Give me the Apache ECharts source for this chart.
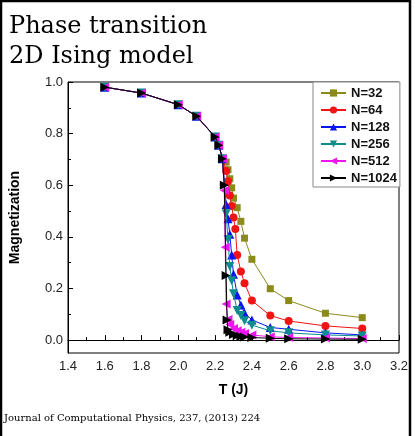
<!DOCTYPE html>
<html>
<head>
<meta charset="utf-8">
<script src="https://cdn.jsdelivr.net/npm/echarts@6/dist/echarts.min.js"></script>
<style>
html,body{margin:0;padding:0;background:#fff;}
#chart{width:415px;height:436px;}
</style>
</head>
<body>
<div id="chart"></div>
<script>
// Shared low-temperature points (all sizes overlap)
var tLow = [1.6, 1.8, 2.0, 2.1, 2.2, 2.22, 2.24];
var mLow = [0.98, 0.957, 0.912, 0.867, 0.787, 0.755, 0.703];

var t32 = [2.26, 2.27, 2.28, 2.29, 2.30, 2.32, 2.34, 2.36, 2.40, 2.50, 2.60, 2.80, 3.00];
var m32 = [0.69, 0.66, 0.625, 0.59, 0.55, 0.513, 0.46, 0.395, 0.313, 0.199, 0.153, 0.104, 0.087];

var t64 = [2.26, 2.27, 2.28, 2.29, 2.30, 2.31, 2.32, 2.34, 2.36, 2.40, 2.50, 2.60, 2.80, 3.00];
var m64 = [0.655, 0.615, 0.56, 0.52, 0.475, 0.43, 0.33, 0.266, 0.22, 0.153, 0.095, 0.074, 0.055, 0.045];

var t128 = [2.26, 2.27, 2.28, 2.29, 2.30, 2.32, 2.34, 2.36, 2.40, 2.50, 2.60, 2.80, 3.00];
var m128 = [0.525, 0.47, 0.41, 0.33, 0.255, 0.175, 0.136, 0.105, 0.078, 0.049, 0.042, 0.028, 0.02];

var t256 = [2.26, 2.27, 2.28, 2.29, 2.30, 2.32, 2.34, 2.36, 2.40, 2.50, 2.60, 2.80, 3.00];
var m256 = [0.49, 0.39, 0.285, 0.23, 0.18, 0.115, 0.095, 0.075, 0.058, 0.036, 0.028, 0.02, 0.016];

var t512 = [2.25, 2.255, 2.26, 2.27, 2.28, 2.30, 2.32, 2.34, 2.36, 2.40, 2.50, 2.60, 2.80, 3.00];
var m512 = [0.58, 0.36, 0.14, 0.08, 0.06, 0.045, 0.036, 0.03, 0.026, 0.02, 0.013, 0.01, 0.008, 0.006];

var t1024 = [2.25, 2.26, 2.265, 2.27, 2.28, 2.30, 2.32, 2.34, 2.36, 2.40, 2.50, 2.60, 2.80, 3.00];
var m1024 = [0.60, 0.25, 0.078, 0.04, 0.03, 0.022, 0.018, 0.014, 0.012, 0.01, 0.007, 0.005, 0.004, 0.003];

var seriesNames = ['N=32', 'N=64', 'N=128', 'N=256', 'N=512', 'N=1024'];
var xTicks = [1.4, 1.6, 1.8, 2.0, 2.2, 2.4, 2.6, 2.8, 3.0, 3.2];
var yTicks = [0.0, 0.2, 0.4, 0.6, 0.8, 1.0];
var yMinorTicks = [0.1, 0.3, 0.5, 0.7, 0.9];

function pairs(ts, ms) {
  var out = [];
  for (var i = 0; i < tLow.length; i++) out.push([tLow[i], mLow[i]]);
  for (var j = 0; j < ts.length; j++) out.push([ts[j], ms[j]]);
  return out;
}

var styles = [
  {c: '#8b8b1c', s: 'rect', size: 7, rot: 0},
  {c: '#f01414', s: 'circle', size: 8, rot: 0},
  {c: '#0a14f0', s: 'triangle', size: 9, rot: 0},
  {c: '#0f8c8c', s: 'triangle', size: 9, rot: 180},
  {c: '#f014f0', s: 'triangle', size: 9, rot: 90},
  {c: '#000000', s: 'triangle', size: 9, rot: -90}
];
var dataSets = [pairs(t32, m32), pairs(t64, m64), pairs(t128, m128), pairs(t256, m256), pairs(t512, m512), pairs(t1024, m1024)];

var series = seriesNames.map(function (n, i) {
  return {
    name: n, type: 'line', data: dataSets[i],
    symbol: styles[i].s, symbolSize: styles[i].size, symbolRotate: styles[i].rot,
    showAllSymbol: true,
    lineStyle: {color: styles[i].c, width: 1},
    itemStyle: {color: styles[i].c},
    animation: false, z: 2 + i
  };
});

var chart = echarts.init(document.getElementById('chart'));
chart.setOption({
  backgroundColor: '#fff',
  animation: false,
  title: {
    text: 'Phase transition\n2D Ising model',
    left: 4, top: 7,
    textStyle: {fontFamily: 'DejaVu Serif', fontSize: 24, fontWeight: 'normal', color: '#000', lineHeight: 30}
  },
  grid: {left: 66, right: 16, top: 82, bottom: 83, show: true, borderColor: '#000', borderWidth: 1, backgroundColor: 'transparent'},
  legend: {
    orient: 'vertical', left: 313, top: 82,
    padding: [4, 3, 2, 7], itemGap: 3, itemWidth: 25, itemHeight: 9,
    borderColor: '#888', borderWidth: 1, backgroundColor: '#fff',
    textStyle: {fontFamily: 'Liberation Sans', fontSize: 13, fontWeight: 'bold', color: '#111', lineHeight: 14},
    data: seriesNames
  },
  xAxis: {
    type: 'value', min: 1.4, max: 3.2, interval: 0.2,
    name: 'T (J)', nameLocation: 'middle', nameGap: 30,
    nameTextStyle: {fontFamily: 'Liberation Sans', fontSize: 14, fontWeight: 'bold', color: '#000'},
    axisLine: {lineStyle: {color: '#000', width: 1}},
    axisTick: {inside: true, length: 5, lineStyle: {color: '#000'}},
    minorTick: {show: true, splitNumber: 2, length: 3, lineStyle: {color: '#000'}},
    axisLabel: {fontFamily: 'Liberation Sans', fontSize: 13, color: '#222', margin: 7,
      customValues: xTicks, formatter: function (v) { return v.toFixed(1); }},
    splitLine: {show: false}
  },
  yAxis: [{
    type: 'value', min: -0.05, max: 1.0,
    name: 'Magnetization', nameLocation: 'middle', nameGap: 46,
    nameTextStyle: {fontFamily: 'Liberation Sans', fontSize: 14, fontWeight: 'bold', color: '#000'},
    axisLine: {show: true, lineStyle: {color: '#000', width: 1}},
    axisTick: {show: true, inside: true, length: 5, customValues: yTicks, lineStyle: {color: '#000'}},
    axisLabel: {fontFamily: 'Liberation Sans', fontSize: 13, color: '#222', margin: 5,
      customValues: yTicks, formatter: function (v) { return v.toFixed(1); }},
    splitLine: {show: false}
  }, {
    type: 'value', min: -0.05, max: 1.0, position: 'left',
    axisLine: {show: false},
    axisTick: {show: true, inside: true, length: 3, customValues: yMinorTicks, lineStyle: {color: '#000'}},
    axisLabel: {show: false},
    splitLine: {show: false}
  }],
  series: series,
  graphic: [
    {type: 'text', left: 4, top: 413, style: {text: 'Journal of Computational Physics, 237, (2013) 224', font: '10px "DejaVu Serif"', fill: '#000'}},
    {type: 'rect', shape: {x: 1, y: 1, width: 409, height: 446}, style: {fill: 'none', stroke: '#000', lineWidth: 2.5}, silent: true, z: 100}
  ]
});
</script>
</body>
</html>
